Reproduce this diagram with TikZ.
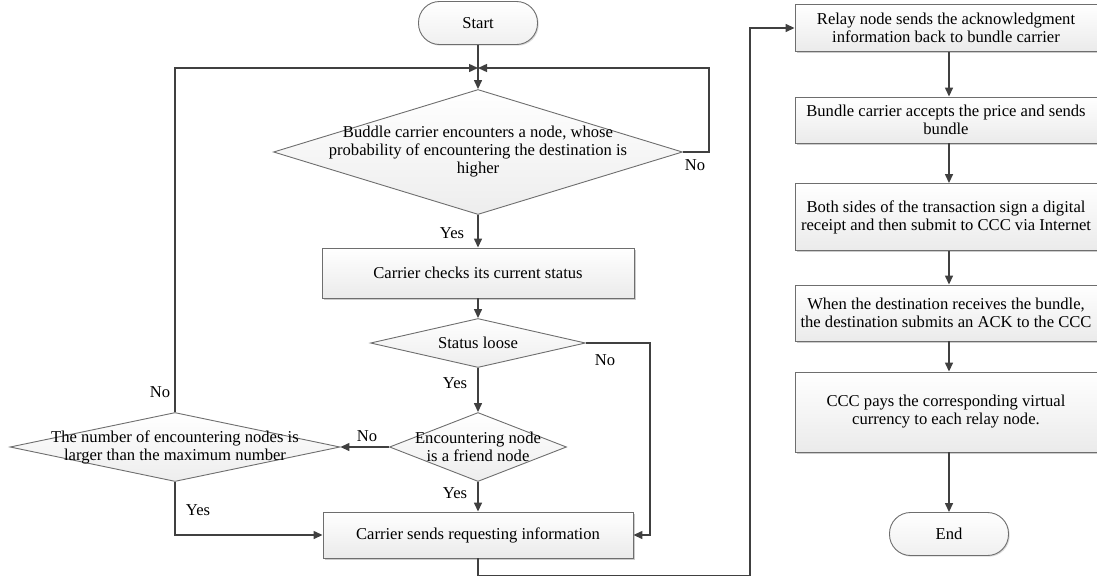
\documentclass[tikz,border=0pt]{standalone}
\usepackage{fontspec}
\setmainfont{Liberation Serif}
\usetikzlibrary{shapes.geometric,shadows,arrows.meta}
\definecolor{edge}{HTML}{6E6E6E}
\definecolor{lin}{HTML}{404040}
\begin{document}
\begin{tikzpicture}[x=1pt,y=-1pt,
  font=\fontsize{16.6}{18}\selectfont,
  box/.style={draw=edge, line width=0.9pt, top color=white, bottom color=gray!16,
    drop shadow={shadow xshift=1.5pt, shadow yshift=-1.5pt, opacity=0.4},
    align=center, inner sep=0pt, minimum width=#1},
  box/.default=302,
  term/.style={draw=edge, line width=0.9pt, top color=white, bottom color=gray!12,
    rounded corners=21pt, minimum width=119pt, minimum height=43pt,
    drop shadow={shadow xshift=1.2pt, shadow yshift=-1.2pt, opacity=0.3}},
  dia/.style={diamond, draw=edge, line width=0.9pt, top color=white, bottom color=gray!14, inner sep=0pt},
  txt/.style={align=center, inner sep=0pt},
  lab/.style={inner sep=0pt},
  arr/.style={draw=lin, line width=1.4pt, -{Triangle[length=9pt,width=8pt]}},
  ln/.style={draw=lin, line width=1.4pt}]
\useasboundingbox (0,0) rectangle (1097,579);

% left column
\node[term] (start) at (478,23) {Start};
\coordinate (j) at (478,68);
\node[dia, minimum width=409pt, minimum height=125pt] (d1) at (478,152) {};
\node[txt] (t1) at (478,152) {Buddle carrier encounters a node, whose\\probability of encountering the destination is\\higher};
\node[box=312, minimum height=50pt] (b2) at (478,273) {Carrier checks its current status};
\node[dia, minimum width=215pt, minimum height=49pt] (d3) at (478,343) {};
\node[txt] (t3) at (478,343) {Status loose};
\node[dia, minimum width=177pt, minimum height=69pt] (d4) at (478,447) {};
\node[txt] (t4) at (478,447) {Encountering node\\is a friend node};
\node[dia, minimum width=330pt, minimum height=69pt] (d5) at (175,447) {};
\node[txt] (t5) at (175,447) {The number of encountering nodes is\\larger than the maximum number};
\node[box=310, minimum height=46pt] (b3) at (478,535) {Carrier sends requesting information};

% right column
\node[box, minimum height=47pt] (r1) at (946,28) {Relay node sends the acknowledgment\\information back to bundle carrier};
\node[box, minimum height=46pt] (r2) at (946,120) {Bundle carrier accepts the price and sends\\bundle};
\node[box, minimum height=67pt] (r3) at (946,217) {Both sides of the transaction sign a digital\\receipt and then submit to CCC via Internet};
\node[box, minimum height=56pt] (r4) at (946,313) {When the destination receives the bundle,\\the destination submits an ACK to the CCC};
\node[box, minimum height=80pt] (r5) at (946,412) {CCC pays the corresponding virtual\\currency to each relay node.};
\node[term] (end) at (949,534) {End};

% labels
\node[lab] (l1) at (695,165) {No};
\node[lab] (l2) at (452,233) {Yes};
\node[lab] (l3) at (605,360) {No};
\node[lab] (l4) at (455,383) {Yes};
\node[lab] (l5) at (367,436) {No};
\node[lab] (l6) at (160,392) {No};
\node[lab] (l7) at (455,493) {Yes};
\node[lab] (l8) at (198,510) {Yes};

% connectors
\draw[ln] (start.south) -- (j);
\draw[arr] (j) -- (d1.north);
\draw[arr] (d1.east) -- ++(26,0) |- (j);
\draw[arr] (d5.north) |- (j);
\draw[arr] (d1.south) -- (b2.north);
\draw[arr] (b2.south) -- (d3.north);
\draw[arr] (d3.south) -- (d4.north);
\draw[arr] (d3.east) -- ++(64,0) |- (b3.east);
\draw[arr] (d4.west) -- (d5.east);
\draw[arr] (d4.south) -- (b3.north);
\draw[arr] (d5.south) |- (b3.west);
\draw[arr] (b3.south) -- ++(0,17) -- ++(272,0) |- (r1.west);
\draw[arr] (r1.south -| end.north) -- (r2.north -| end.north);
\draw[arr] (r2.south -| end.north) -- (r3.north -| end.north);
\draw[arr] (r3.south -| end.north) -- (r4.north -| end.north);
\draw[arr] (r4.south -| end.north) -- (r5.north -| end.north);
\draw[arr] (r5.south -| end.north) -- (end.north);
\end{tikzpicture}
\end{document}
